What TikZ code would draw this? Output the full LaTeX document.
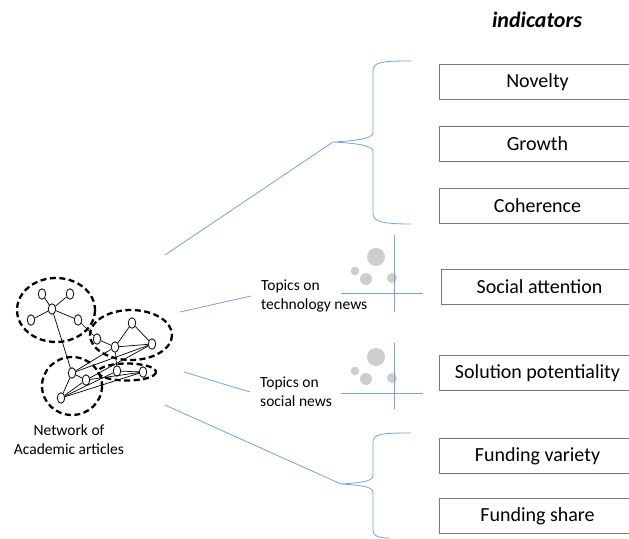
\documentclass[tikz,border=0pt]{standalone}
\usepackage{fontspec}
\setmainfont{Carlito}
\usetikzlibrary{shapes.geometric}

\definecolor{lineblue}{RGB}{120,162,216}
\definecolor{boxgray}{RGB}{120,120,120}
\definecolor{bubblegray}{RGB}{205,205,205}

\begin{document}
\begin{tikzpicture}[x=1pt,y=-1pt,
		art/.style={draw,fill=white,ellipse,minimum width=7.5pt,minimum height=10.5pt,inner sep=0pt,line width=0.8pt},
		cluster/.style={line width=2.3pt,dash pattern=on 6pt off 3.5pt},
		link/.style={line width=0.7pt},
		guide/.style={draw=lineblue,line width=0.8pt},
		indicator/.style={draw=boxgray,line width=1pt,minimum width=196pt,minimum height=35pt,anchor=west,inner sep=0pt,font=\fontsize{20}{24}\selectfont},
		caption/.style={align=left,anchor=west,inner sep=0pt,font=\fontsize{15.5}{19}\selectfont}]
		
		\useasboundingbox (0,0) rectangle (629,538);
		\clip (0,0) rectangle (629,538);
		
		% column of indicators
		\node[font=\fontsize{22}{26}\selectfont\bfseries\itshape] (title) at (537,20) {indicators};
		\node[indicator] (novelty)  at (439,82)  {Novelty};
		\node[indicator] (growth)   at (439,144) {Growth};
		\node[indicator] (coher)    at (439,206) {Coherence};
		\node[indicator] (social)   at (441,287) {Social attention};
		\node[indicator] (solution) at (439,373) {Solution potentiality};
		\node[indicator] (fundvar)  at (439,456) {Funding variety};
		\node[indicator] (fundshr)  at (439,516) {Funding share};
		
		% braces grouping the indicators
		\coordinate (tipA) at (333,142);
		\coordinate (tipB) at (341,484);
		\draw[guide] (411,61) .. controls (380,61) and (373,62) .. (373,72) -- (373,133)
			.. controls (373,139) and (352,141) .. (tipA)
			.. controls (352,143) and (373,145) .. (373,151) -- (373,213)
			.. controls (373,221) and (380,224) .. (411,224);
		\draw[guide] (411,433) .. controls (380,433) and (373,434) .. (373,443) -- (373,476)
			.. controls (373,482) and (356,483) .. (tipB)
			.. controls (356,485) and (373,486) .. (373,492) -- (373,530)
			.. controls (373,536) and (378,538) .. (390,538);
		
		% topic maps
		\foreach \dy/\ylo/\yhi in {0/-58/19,100/-50/16}{
			\begin{scope}[yshift=-\dy pt]
				\fill[bubblegray] (376,257) circle (9);
				\fill[bubblegray] (355,271) circle (4.3);
				\fill[bubblegray] (366,279) circle (6);
				\fill[bubblegray] (392,278) circle (5);
				\draw[lineblue,line width=0.8pt] (341,293) -- (423,293);
				\draw[lineblue,line width=0.8pt] (394,293+\ylo) -- (394,293+\yhi);
			\end{scope}
		}
		\node[caption] (technews) at (261,296) {Topics on\\technology news};
		\node[caption] (socnews)  at (260,392) {Topics on\\social news};
		
		% network of articles
		\draw[cluster] (56,310) ellipse (39 and 32);
		\draw[cluster] (131,335) ellipse (41 and 25);
		\draw[cluster] (72,386) ellipse (30 and 29);
		\draw[cluster] (127,372) ellipse (29 and 8.5);
		
		\node[art] (a0) at (52,309) {};
		\node[art] (a1) at (42,294) {};
		\node[art] (a2) at (70,294) {};
		\node[art] (a3) at (31,320) {};
		\node[art] (a4) at (78,320) {};
		\node[art] (b1) at (97,339) {};
		\node[art] (b2) at (115,347) {};
		\node[art] (b3) at (132,323) {};
		\node[art] (b4) at (152,344) {};
		\node[art] (c1) at (72,373) {};
		\node[art] (c2) at (86,380) {};
		\node[art] (c3) at (61,398) {};
		\node[art] (d1) at (117,371) {};
		\node[art] (d2) at (143,372) {};
		
		\foreach \u/\v in {a0/a1,a0/a2,a0/a3,a0/a4,a0/c1,a4/b1,b1/b2,b2/b3,b3/b4,b2/b4,b2/d1,
			c1/b2,c1/b4,c1/c2,c1/c3,c2/c3,c3/d1,c3/d2,c2/d2,d1/d2,c2/b4}
			\draw[link] (\u) -- (\v);
		
		\node[caption,anchor=center,align=center] (netlabel) at (69,440) {Network of\\Academic articles};
		
		% links from the network to the topics and indicators
		\coordinate (out1) at (165,255);
		\coordinate (out2) at (180,312);
		\coordinate (out3) at (184,372);
		\coordinate (out4) at (165,405);
		\coordinate (in2) at (251,296);
		\coordinate (in3) at (250,392);
		\draw[guide] (out1) -- (tipA);
		\draw[guide] (out2) -- (in2);
		\draw[guide] (out3) -- (in3);
		\draw[guide] (out4) -- (tipB);
		
	\end{tikzpicture}
\end{document}
